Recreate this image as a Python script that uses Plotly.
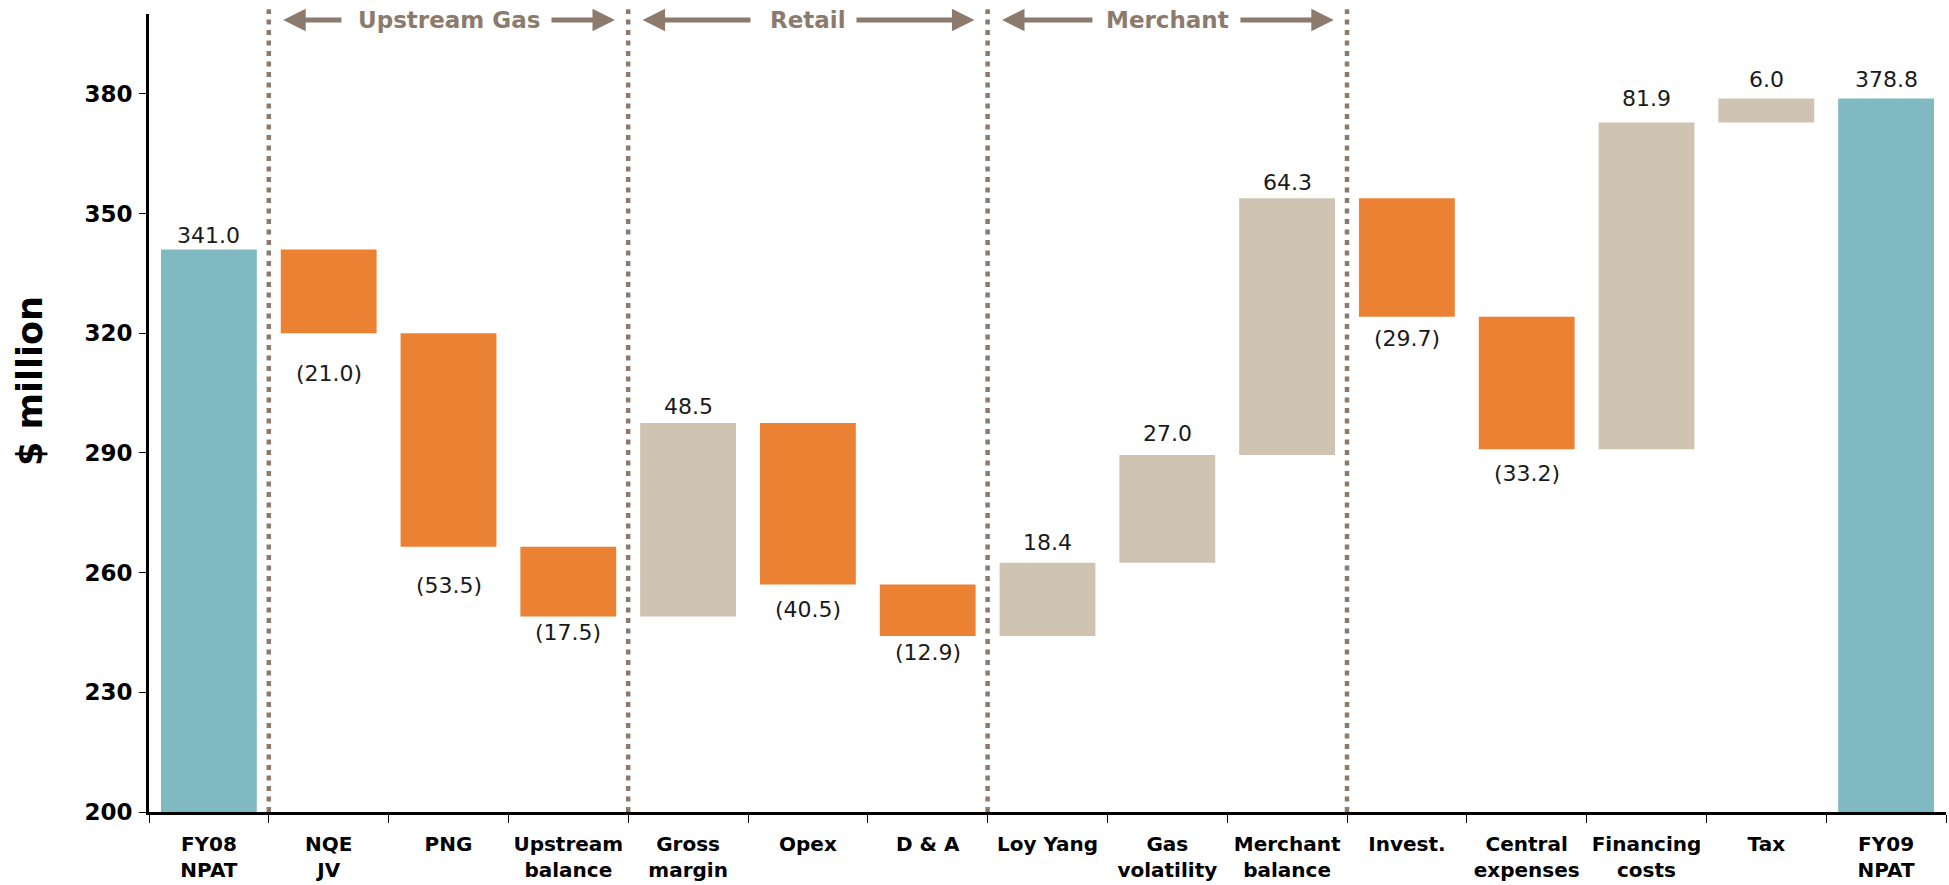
import plotly.graph_objects as go

categories = ["FY08<br>NPAT", "NQE<br>JV", "PNG", "Upstream<br>balance", "Gross<br>margin",
              "Opex", "D & A", "Loy Yang", "Gas<br>volatility", "Merchant<br>balance",
              "Invest.", "Central<br>expenses", "Financing<br>costs", "Tax", "FY09<br>NPAT"]
values = [341.0, -21.0, -53.5, -17.5, 48.5, -40.5, -12.9, 18.4, 27.0, 64.3,
          -29.7, -33.2, 81.9, 6.0, 378.8]
measures = ["absolute"] + ["relative"] * 13 + ["total"]
y_ticks = [200, 230, 260, 290, 320, 350, 380]
segments = ["Upstream Gas", "Retail", "Merchant"]
segment_bounds = [(0.5, 3.5), (3.5, 6.5), (6.5, 9.5)]

# distance (px) of each value label centre from its bar end, as in the reference
label_gap = [14, 40, 39, 16, 16, 25, 16, 20, 21, 16, 22, 24, 24, 19, 19]

def fmt(v):
    return f"({abs(v):.1f})" if v < 0 else f"{v:.1f}"

TEAL = "#80B9C2"
ORANGE = "#EB8233"
BEIGE = "#CFC4B2"
BROWN = "#8C7B6D"

fig = go.Figure(go.Waterfall(
    x=categories, y=values, measure=measures,
    textposition="none",
    increasing=dict(marker=dict(color=BEIGE)),
    decreasing=dict(marker=dict(color=ORANGE)),
    totals=dict(marker=dict(color=TEAL)),
    connector=dict(visible=False),
))

annotations = []
# value labels at the end of each bar (running total)
running = 0.0
for i, (v, m) in enumerate(zip(values, measures)):
    if m == "absolute" or m == "total":
        end = v
        running = v
        up = True
    else:
        running += v
        end = running
        up = v >= 0
    annotations.append(dict(text=fmt(v), x=i, y=end, xref="x", yref="y", showarrow=False,
                            xanchor="center", yanchor="middle",
                            yshift=label_gap[i] if up else -label_gap[i],
                            font=dict(family="DejaVu Sans", size=22, color="#1a1a1a")))

shapes = []
for b in [0.5, 3.5, 6.5, 9.5]:
    shapes.append(dict(type="line", xref="x", yref="paper", x0=b, x1=b, y0=0, y1=1.006,
                       line=dict(color=BROWN, width=4.5, dash="5px,5.5px")))

# arrow tail positions (category units)
arrow_tails = [(1.119, 2.847), (4.533, 5.393), (7.388, 8.598)]
for name, (a, b), (tl, tr) in zip(segments, segment_bounds, arrow_tails):
    annotations.append(dict(text=name, x=(a + b) / 2, y=0.9925, xref="x", yref="paper",
                            showarrow=False, xanchor="center", yanchor="middle",
                            font=dict(family="DejaVu Sans", size=23, color=BROWN, weight="bold")))
    for head, tail in [(a + 0.12, tl), (b - 0.11, tr)]:
        annotations.append(dict(text="", x=head, y=0.9925, xref="x", yref="paper",
                                ax=tail, ay=0, axref="x", ayref="pixel",
                                showarrow=True, arrowhead=2, arrowsize=0.9, arrowwidth=5,
                                arrowcolor=BROWN, standoff=0, startstandoff=0))

annotations.append(dict(text="$ million", xref="paper", yref="paper", x=0, y=0.54,
                        xshift=-119, textangle=-90, showarrow=False,
                        xanchor="center", yanchor="middle",
                        font=dict(family="DejaVu Sans", size=35, color="#000", weight="bold")))

fig.update_layout(
    width=1949, height=885,
    margin=dict(l=149, r=3, t=14, b=73),
    plot_bgcolor="white", paper_bgcolor="white",
    showlegend=False, waterfallgap=0.2,
    shapes=shapes, annotations=annotations,
    xaxis=dict(type="category", tickson="boundaries", ticks="outside", ticklen=8,
               tickcolor="#000", tickwidth=1, showline=True, linecolor="#000", linewidth=3,
               showgrid=False, ticklabelstandoff=12,
               tickfont=dict(family="DejaVu Sans", size=20, color="#000", weight="bold"),
               range=[-0.5, 14.5]),
    yaxis=dict(range=[200, 400], tickvals=y_ticks, ticks="outside", ticklen=7,
               tickcolor="#000", tickwidth=1, showline=True, linecolor="#000", linewidth=3,
               showgrid=False, zeroline=False, ticklabelstandoff=2,
               tickfont=dict(family="DejaVu Sans", size=23, color="#000", weight="bold")),
)

fig.write_html("out.html")
